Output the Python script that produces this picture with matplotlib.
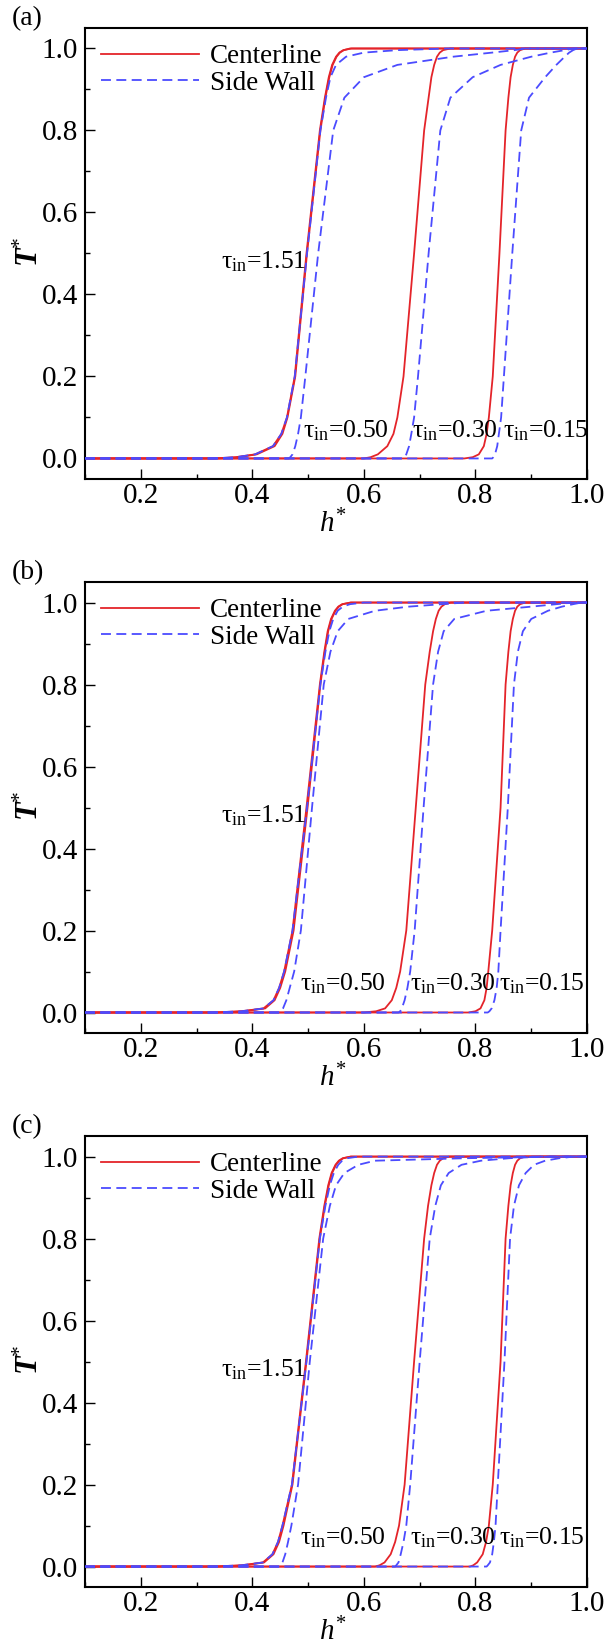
import matplotlib
matplotlib.use('Agg')
import matplotlib.pyplot as plt
from matplotlib.ticker import MultipleLocator

t_levels = [0, 0.003, 0.01, 0.03, 0.06, 0.1, 0.2, 0.5, 0.8, 0.88, 0.93, 0.96, 0.98, 0.99, 0.996, 1.0]
tau_names = ['1.51', '0.50', '0.30', '0.15']

# (a) h* of each curve at t_levels, order follows tau_names
a_center = [
    [0.33, 0.370, 0.405, 0.437, 0.452, 0.462, 0.476, 0.497, 0.521, 0.530, 0.537, 0.543, 0.550, 0.556, 0.563, 0.578],
    [0.34, 0.375, 0.408, 0.440, 0.454, 0.463, 0.477, 0.498, 0.522, 0.531, 0.538, 0.544, 0.551, 0.557, 0.564, 0.575],
    [0.60, 0.612, 0.625, 0.642, 0.653, 0.660, 0.671, 0.690, 0.708, 0.716, 0.721, 0.726, 0.731, 0.736, 0.742, 0.755],
    [0.78, 0.795, 0.806, 0.815, 0.820, 0.824, 0.831, 0.843, 0.854, 0.859, 0.863, 0.867, 0.871, 0.875, 0.880, 0.889],
]
a_side = [
    [0.33, 0.370, 0.405, 0.437, 0.452, 0.462, 0.476, 0.498, 0.522, 0.532, 0.540, 0.550, 0.568, 0.600, 0.660, 0.750],
    [0.465, 0.468, 0.472, 0.477, 0.482, 0.487, 0.495, 0.518, 0.545, 0.565, 0.600, 0.660, 0.760, 0.830, 0.870, 0.890],
    [0.67, 0.673, 0.676, 0.681, 0.685, 0.690, 0.697, 0.716, 0.737, 0.755, 0.795, 0.845, 0.900, 0.935, 0.960, 0.975],
    [0.83, 0.832, 0.835, 0.839, 0.842, 0.846, 0.851, 0.866, 0.882, 0.896, 0.925, 0.945, 0.960, 0.968, 0.975, 0.982],
]

# (b)
b_center = [
    [0.33, 0.380, 0.420, 0.438, 0.448, 0.457, 0.472, 0.497, 0.521, 0.529, 0.535, 0.541, 0.548, 0.554, 0.561, 0.576],
    [0.34, 0.385, 0.423, 0.440, 0.450, 0.459, 0.474, 0.499, 0.522, 0.530, 0.536, 0.542, 0.549, 0.555, 0.562, 0.577],
    [0.60, 0.622, 0.638, 0.650, 0.658, 0.665, 0.676, 0.693, 0.710, 0.718, 0.724, 0.729, 0.734, 0.739, 0.745, 0.756],
    [0.787, 0.800, 0.809, 0.816, 0.820, 0.823, 0.830, 0.845, 0.854, 0.859, 0.863, 0.867, 0.871, 0.875, 0.880, 0.889],
]
b_side = [
    [0.33, 0.380, 0.420, 0.438, 0.448, 0.457, 0.472, 0.498, 0.522, 0.531, 0.538, 0.545, 0.553, 0.562, 0.575, 0.600],
    [0.448, 0.451, 0.455, 0.461, 0.467, 0.475, 0.487, 0.507, 0.528, 0.540, 0.553, 0.572, 0.620, 0.680, 0.740, 0.780],
    [0.662, 0.665, 0.668, 0.673, 0.678, 0.683, 0.691, 0.707, 0.724, 0.733, 0.743, 0.762, 0.820, 0.900, 0.945, 0.975],
    [0.822, 0.825, 0.829, 0.834, 0.838, 0.841, 0.845, 0.858, 0.869, 0.876, 0.885, 0.900, 0.930, 0.955, 0.975, 0.990],
]

# (c)
c_center = [
    [0.33, 0.380, 0.419, 0.436, 0.446, 0.454, 0.471, 0.496, 0.520, 0.529, 0.536, 0.542, 0.549, 0.555, 0.562, 0.576],
    [0.34, 0.385, 0.421, 0.438, 0.448, 0.456, 0.472, 0.497, 0.521, 0.530, 0.537, 0.543, 0.550, 0.556, 0.563, 0.577],
    [0.62, 0.628, 0.637, 0.648, 0.656, 0.663, 0.673, 0.690, 0.708, 0.715, 0.721, 0.726, 0.731, 0.736, 0.742, 0.753],
    [0.79, 0.796, 0.803, 0.813, 0.819, 0.824, 0.831, 0.845, 0.854, 0.859, 0.863, 0.867, 0.871, 0.875, 0.880, 0.889],
]
c_side = [
    [0.33, 0.380, 0.419, 0.436, 0.446, 0.454, 0.471, 0.497, 0.521, 0.531, 0.539, 0.546, 0.554, 0.561, 0.570, 0.590],
    [0.447, 0.450, 0.454, 0.459, 0.464, 0.470, 0.482, 0.503, 0.527, 0.539, 0.550, 0.565, 0.590, 0.620, 0.780, 0.950],
    [0.656, 0.658, 0.662, 0.666, 0.671, 0.676, 0.683, 0.700, 0.718, 0.728, 0.738, 0.752, 0.775, 0.810, 0.860, 0.920],
    [0.820, 0.822, 0.826, 0.830, 0.833, 0.836, 0.840, 0.852, 0.862, 0.869, 0.878, 0.890, 0.905, 0.925, 0.950, 0.976],
]

plt.rcParams['font.family'] = ['Liberation Serif', 'DejaVu Serif']
plt.rcParams['mathtext.fontset'] = 'custom'
plt.rcParams['mathtext.rm'] = 'Liberation Serif'
plt.rcParams['mathtext.it'] = 'Liberation Serif:italic'
plt.rcParams['mathtext.bf'] = 'Liberation Serif:bold:italic'

red = '#e4242a'
blue = '#4b4bff'

fig = plt.figure(figsize=(6.08, 16.47), dpi=100)

panels = [('(a)', a_center, a_side, 0.7092, 0.068),
          ('(b)', b_center, b_side, 0.3728, 0.070),
          ('(c)', c_center, c_side, 0.0364, 0.070)]

# label x positions for tau = 0.50, 0.30, 0.15
label_x = {'(a)': [0.491, 0.687, 0.850],
           '(b)': [0.485, 0.682, 0.843],
           '(c)': [0.485, 0.682, 0.843]}

for tag, center, side, bottom, label_y in panels:
    ax = fig.add_axes([0.1398, bottom, 0.8257, 0.2738])

    for i in range(len(tau_names)):
        x = [0.1] + center[i] + [1.0]
        y = [0.0] + t_levels + [1.0]
        ax.plot(x, y, color=red, lw=1.3, label='Centerline' if i == 0 else None, zorder=2)
    for i in range(len(tau_names)):
        x = [0.1] + side[i] + [1.0]
        y = [0.0] + t_levels + [1.0]
        ax.plot(x, y, color=blue, lw=1.3, dashes=(5.5, 3), label='Side Wall' if i == 0 else None, zorder=3)

    ax.set_xlim(0.1, 1.0)
    ax.set_ylim(-0.05, 1.05)
    ax.xaxis.set_major_locator(MultipleLocator(0.2))
    ax.xaxis.set_minor_locator(MultipleLocator(0.1))
    ax.yaxis.set_major_locator(MultipleLocator(0.2))
    ax.yaxis.set_minor_locator(MultipleLocator(0.1))
    ax.tick_params(which='both', direction='in', top=False, right=False, width=1.0)
    ax.tick_params(which='major', length=7, labelsize=21)
    ax.tick_params(axis='y', which='major', pad=5)
    ax.tick_params(axis='x', which='major', pad=3)
    ax.tick_params(which='minor', length=3.5)
    for sp in ax.spines.values():
        sp.set_linewidth(1.5)

    ax.text(0.496, 0.48, '\u03c4$_{\\rm in}$=' + tau_names[0], fontsize=18.5, ha='right', va='center')
    for j in range(1, 4):
        ax.text(label_x[tag][j - 1], label_y, '\u03c4$_{\\rm in}$=' + tau_names[j],
                fontsize=18.5, ha='left', va='center')

    ax.text(0.494, -0.10, '$h^{*}$', transform=ax.transAxes, fontsize=21, ha='center', va='center')
    ax.text(-0.108, 0.505, r'$\mathbf{T}^{*}$', transform=ax.transAxes, fontsize=22,
            ha='center', va='center', rotation=90)

    ax.legend(loc='upper left', bbox_to_anchor=(0.0, 1.0), frameon=False, fontsize=19.5,
              handlelength=3.6, handletextpad=0.4, labelspacing=0.05, borderaxespad=0.2)

    top_px = (1 - bottom - 0.2738) * 1647
    fig.text(12 / 608, 1 - (top_px - 9) / 1647, tag, fontsize=20, ha='left', va='center')

fig.savefig('out.png', dpi=100)
